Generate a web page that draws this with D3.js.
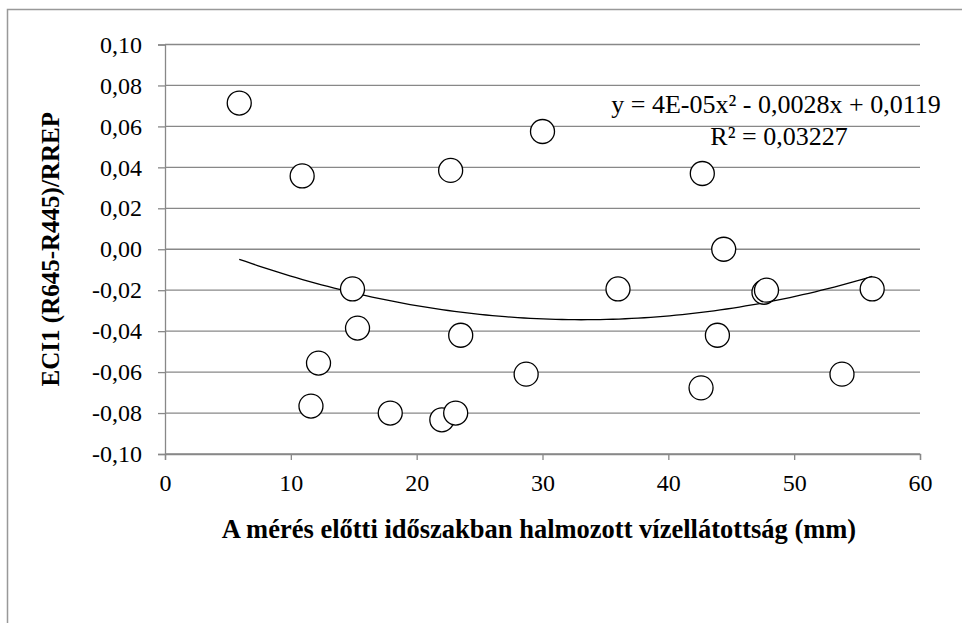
<!DOCTYPE html>
<html>
<head>
<meta charset="utf-8">
<script src="https://cdn.jsdelivr.net/npm/d3@7"></script>
<style>
  body { margin: 0; background: #fff; }
  svg text { font-family: "Liberation Serif", "Times New Roman", serif; fill: #000; }
</style>
</head>
<body>
<div id="chart"></div>
<script>
// measured points (x: mm, y: ECI1)
var xVals = [5.9, 10.9, 11.6, 12.2, 14.9, 15.3, 17.9, 22.0, 23.1, 22.7, 23.5, 30.0, 28.7, 36.0, 42.7, 42.6, 44.4, 43.9, 47.6, 47.8, 53.8, 56.2];
var yVals = [0.0714, 0.0358, -0.0766, -0.0556, -0.0194, -0.0385, -0.0800, -0.0833, -0.0800, 0.0385, -0.0420, 0.0575, -0.0610, -0.0194, 0.0370, -0.0677, 0.0000, -0.0420, -0.0210, -0.0200, -0.0610, -0.0194];
var xTicks = [0, 10, 20, 30, 40, 50, 60];
var yTicks = [-0.10, -0.08, -0.06, -0.04, -0.02, 0.00, 0.02, 0.04, 0.06, 0.08, 0.10];
var eqLabel = "y = 4E-05x² - 0,0028x + 0,0119";
var r2Label = "R² = 0,03227";
var xTitle = "A mérés előtti időszakban halmozott vízellátottság (mm)";
var yTitle = "ECI1 (R645-R445)/RREP";

var W = 962, H = 623;
var margin = {top: 44.5, right: 42, bottom: 169, left: 165};
var width = W - margin.left - margin.right,
    height = H - margin.top - margin.bottom;

var svg = d3.select("#chart").append("svg")
  .attr("width", W)
  .attr("height", H);

// outer frame (clipped on right/bottom like the source)
svg.append("path")
  .attr("d", "M7.5," + H + "V9.5H" + W)
  .attr("fill", "none")
  .attr("stroke", "#999")
  .attr("stroke-width", 1.5);

var g = svg.append("g")
  .attr("transform", "translate(" + margin.left + "," + margin.top + ")");

var x = d3.scaleLinear().domain([0, 60]).range([0, width]);
var y = d3.scaleLinear().domain([-0.10, 0.10]).range([height, 0]);

var fmt = function(d) { return d3.format(".2f")(d).replace(".", ",").replace("−", "-"); };

// gridlines
g.selectAll(".grid")
  .data(yTicks)
  .enter().append("line")
  .attr("x1", 0)
  .attr("x2", width)
  .attr("y1", function(d) { return y(d); })
  .attr("y2", function(d) { return y(d); })
  .attr("stroke", "#888")
  .attr("stroke-width", 1.3);

var yAxis = d3.axisLeft(y)
  .tickValues(yTicks)
  .tickSize(7)
  .tickPadding(16)
  .tickFormat(fmt);

var xAxis = d3.axisBottom(x)
  .tickValues(xTicks)
  .tickSize(6)
  .tickPadding(14)
  .tickFormat(d3.format("d"));

var ya = g.append("g").call(yAxis);
var xa = g.append("g").attr("transform", "translate(0," + height + ")").call(xAxis);

[ya, xa].forEach(function(a) {
  a.attr("font-family", "Liberation Serif");
  a.select(".domain").attr("stroke", "#888").attr("stroke-width", 1.3);
  a.selectAll(".tick line").attr("stroke", "#888").attr("stroke-width", 1.3);
  a.selectAll(".tick text")
    .style("font-size", "24px")
    .attr("fill", "#000");
});

// quadratic least squares trend
function quadFit(xs, ys) {
  var n = xs.length, s = [0, 0, 0, 0, 0], t = [0, 0, 0];
  for (var i = 0; i < n; i++) {
    var p = 1;
    for (var k = 0; k < 5; k++) { s[k] += p; if (k < 3) t[k] += p * ys[i]; p *= xs[i]; }
  }
  var A = [[s[0], s[1], s[2], t[0]], [s[1], s[2], s[3], t[1]], [s[2], s[3], s[4], t[2]]];
  for (var c = 0; c < 3; c++) {
    for (var r = c + 1; r < 3; r++) {
      var f = A[r][c] / A[c][c];
      for (var j = c; j < 4; j++) A[r][j] -= f * A[c][j];
    }
  }
  var b = [0, 0, 0];
  for (var r2 = 2; r2 >= 0; r2--) {
    var v = A[r2][3];
    for (var j2 = r2 + 1; j2 < 3; j2++) v -= A[r2][j2] * b[j2];
    b[r2] = v / A[r2][r2];
  }
  return b;
}
var coef = quadFit(xVals, yVals);
var xs = d3.extent(xVals);
var trend = d3.range(0, 101).map(function(i) {
  var xv = xs[0] + (xs[1] - xs[0]) * i / 100;
  return [xv, coef[0] + coef[1] * xv + coef[2] * xv * xv];
});

g.append("path")
  .datum(trend)
  .attr("fill", "none")
  .attr("stroke", "#000")
  .attr("stroke-width", 1.3)
  .attr("d", d3.line()
    .x(function(d) { return x(d[0]); })
    .y(function(d) { return y(d[1]); }));

g.selectAll(".dot")
  .data(xVals)
  .enter().append("circle")
  .attr("cx", function(d) { return x(d); })
  .attr("cy", function(d, i) { return y(yVals[i]); })
  .attr("r", 12)
  .attr("fill", "#fff")
  .attr("stroke", "#000")
  .attr("stroke-width", 1.3);

// equation
svg.append("text")
  .attr("x", 776)
  .attr("y", 113)
  .attr("text-anchor", "middle")
  .style("font-size", "26px")
  .text(eqLabel);
svg.append("text")
  .attr("x", 779)
  .attr("y", 145)
  .attr("text-anchor", "middle")
  .style("font-size", "26px")
  .text(r2Label);

// axis titles
svg.append("text")
  .attr("x", 539)
  .attr("y", 538)
  .attr("text-anchor", "middle")
  .style("font-size", "26.5px")
  .style("font-weight", "bold")
  .text(xTitle);

svg.append("text")
  .attr("transform", "translate(59," + (margin.top + height / 2) + ") rotate(-90)")
  .attr("text-anchor", "middle")
  .style("font-size", "25px")
  .style("font-weight", "bold")
  .text(yTitle);
</script>
</body>
</html>
